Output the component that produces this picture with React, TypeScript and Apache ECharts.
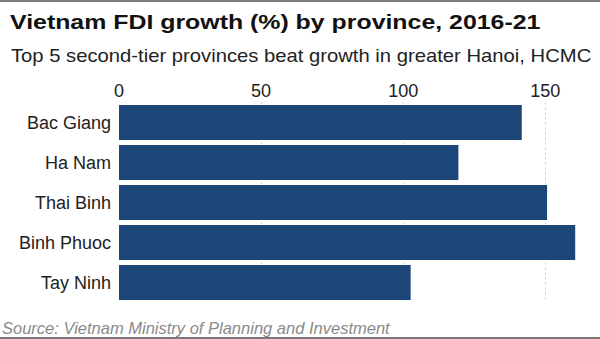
import React, { useEffect, useRef } from "react";
import * as echarts from "echarts";

const categories = ["Bac Giang", "Ha Nam", "Thai Binh", "Binh Phuoc", "Tay Ninh"];
const growthValues = [141.7, 119.4, 150.6, 160.5, 102.6];
const tickValues = [0, 50, 100, 150];

const FONT = "Liberation Sans, Arial, Helvetica, sans-serif";

export default function App() {
  const ref = useRef<HTMLDivElement>(null);
  useEffect(() => {
    document.body.style.margin = "0";
    const chart = echarts.init(ref.current!, null, { renderer: "svg" });
    chart.setOption({
      animation: false,
      backgroundColor: "#ffffff",
      graphic: [
        { type: "rect", shape: { x: 0, y: 0, width: 600, height: 2 }, style: { fill: "#7a7a7a" } },
        { type: "rect", shape: { x: 0, y: 337, width: 600, height: 2 }, style: { fill: "#7a7a7a" } },
        {
          type: "text",
          x: 10,
          y: 22,
          scaleX: 1.185,
          style: {
            text: "Vietnam FDI growth (%) by province, 2016-21",
            font: `bold 21px ${FONT}`,
            fill: "#111",
            verticalAlign: "middle",
            align: "left",
          },
        },
        {
          type: "text",
          x: 11,
          y: 56,
          scaleX: 1.125,
          style: {
            text: "Top 5 second-tier provinces beat growth in greater Hanoi, HCMC",
            font: `18px ${FONT}`,
            fill: "#222",
            verticalAlign: "middle",
            align: "left",
          },
        },
        {
          type: "text",
          x: 2,
          y: 327.5,
          style: {
            text: "Source: Vietnam Ministry of Planning and Investment",
            font: `italic 16.5px ${FONT}`,
            fill: "#8a8a8a",
            verticalAlign: "middle",
            align: "left",
          },
        },
      ],
      grid: { left: 119, right: 12, top: 102.5, bottom: 36.5, containLabel: false },
      xAxis: {
        type: "value",
        position: "top",
        min: 0,
        max: 165,
        interval: 50,
        axisLine: { show: false },
        axisTick: { show: false },
        axisLabel: {
          margin: 3,
          fontFamily: FONT,
          fontSize: 18,
          color: "#222",
          customValues: tickValues,
        },
        splitLine: {
          show: true,
          showMinLine: false,
          showMaxLine: false,
          lineStyle: { type: [2, 3], color: "#c8c8c8", width: 1 },
        },
      },
      yAxis: {
        type: "category",
        data: categories,
        inverse: true,
        axisLine: { show: false },
        axisTick: { show: false },
        axisLabel: {
          margin: 8,
          fontFamily: FONT,
          fontSize: 18,
          color: "#222",
        },
      },
      series: [
        {
          type: "bar",
          data: growthValues,
          barCategoryGap: "13%",
          itemStyle: { color: "#1b4677" },
        },
      ],
    });
    return () => chart.dispose();
  }, []);
  return <div ref={ref} style={{ width: 600, height: 339 }} />;
}
